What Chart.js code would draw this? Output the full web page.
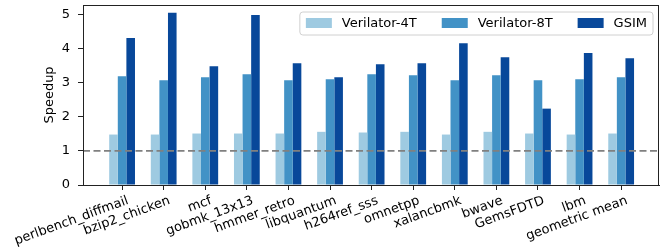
<!DOCTYPE html>
<html>
<head>
<meta charset="utf-8">
<script src="https://cdn.jsdelivr.net/npm/chart.js@4.4.0/dist/chart.umd.min.js"></script>
<style>
  html, body { margin: 0; padding: 0; background: #fff; }
  #wrap { width: 665px; height: 247px; }
</style>
</head>
<body>
<div id="wrap"><canvas id="speedupChart"></canvas></div>
<script>
// benchmark names and speedups
const benchmarks = [
  'perlbench_diffmail', 'bzip2_chicken', 'mcf', 'gobmk_13x13', 'hmmer_retro',
  'libquantum', 'h264ref_sss', 'omnetpp', 'xalancbmk', 'bwave',
  'GemsFDTD', 'lbm', 'geometric mean',
];
const verilator4T = [1.48, 1.48, 1.51, 1.51, 1.51, 1.56, 1.54, 1.56, 1.48, 1.56, 1.51, 1.48, 1.51];
const verilator8T = [3.19, 3.07, 3.16, 3.25, 3.07, 3.10, 3.25, 3.22, 3.07, 3.22, 3.07, 3.10, 3.16];
const gsim = [4.31, 5.05, 3.48, 4.99, 3.57, 3.16, 3.54, 3.57, 4.16, 3.75, 2.24, 3.87, 3.72];
const yTicks = [0, 1, 2, 3, 4, 5];
const baseline = 1;

const FONT = '"DejaVu Sans", sans-serif';
const xMin = -0.94;
const xMax = 12.91;

function points(values) {
  return values.map((v, i) => ({ x: i, y: v }));
}

// legend drawn inside the plot, matplotlib style
const insideLegend = {
  id: 'insideLegend',
  afterDraw(chart) {
    const ctx = chart.ctx;
    const area = chart.chartArea;
    const items = chart.data.datasets.filter((d) => d.type !== 'line');
    ctx.save();
    ctx.font = '13px ' + FONT;
    const widths = items.map((d) => 26 + 10 + ctx.measureText(d.label).width);
    const total = widths.reduce((a, b) => a + b, 0) + 25 * (items.length - 1) + 12;
    const right = area.right - 6;
    const left = right - total;
    const top = area.top + 7;
    const h = 23;
    ctx.beginPath();
    ctx.roundRect(left, top, total, h, 3);
    ctx.fillStyle = 'rgba(255,255,255,0.8)';
    ctx.fill();
    ctx.strokeStyle = '#d0d0d0';
    ctx.lineWidth = 1;
    ctx.stroke();
    let x = left + 6;
    items.forEach((d, i) => {
      ctx.fillStyle = d.backgroundColor;
      ctx.fillRect(x, top + 6, 26, 10);
      ctx.fillStyle = '#000';
      ctx.textBaseline = 'middle';
      ctx.fillText(d.label, x + 36, top + h / 2 + 0.5);
      x += widths[i] + 25;
    });
    ctx.restore();
  },
};

// full box around the axes
const frame = {
  id: 'frame',
  afterDraw(chart) {
    const a = chart.chartArea;
    const ctx = chart.ctx;
    ctx.save();
    ctx.strokeStyle = '#222';
    ctx.lineWidth = 1;
    ctx.strokeRect(a.left + 0.5, a.top + 0.5, a.right - a.left - 1, a.bottom - a.top);
    ctx.restore();
  },
};

new Chart(document.getElementById('speedupChart'), {
  type: 'bar',
  data: {
    datasets: [
      {
        type: 'line',
        label: 'baseline',
        data: [{ x: xMin, y: baseline }, { x: xMax, y: baseline }],
        borderColor: '#808080',
        borderWidth: 1.6,
        borderDash: [7, 3.5],
        pointRadius: 0,
        order: 0,
      },
      {
        label: 'Verilator-4T',
        data: points(verilator4T),
        backgroundColor: '#9ecae1',
        order: 1,
      },
      {
        label: 'Verilator-8T',
        data: points(verilator8T),
        backgroundColor: '#4292c6',
        order: 1,
      },
      {
        label: 'GSIM',
        data: points(gsim),
        backgroundColor: '#08489a',
        order: 1,
      },
    ],
  },
  options: {
    responsive: true,
    maintainAspectRatio: false,
    animation: false,
    categoryPercentage: 0.62,
    barPercentage: 1.0,
    layout: { padding: { left: 0, top: 5, right: 6, bottom: 0 } },
    plugins: {
      legend: { display: false },
      tooltip: { enabled: false },
    },
    scales: {
      x: {
        type: 'linear',
        offset: false,
        min: xMin,
        max: xMax,
        afterBuildTicks: (axis) => {
          axis.ticks = benchmarks.map((_, i) => ({ value: i }));
        },
        afterFit: (axis) => {
          axis.height = 62;
          axis.paddingLeft = 0;
          axis.paddingRight = 0;
        },
        grid: {
          offset: false,
          drawOnChartArea: false,
          drawTicks: true,
          tickLength: 5,
          color: '#222',
        },
        border: { color: '#222' },
        ticks: {
          autoSkip: false,
          minRotation: 20,
          maxRotation: 20,
          padding: 3,
          labelOffset: 6,
          color: '#000',
          font: { family: FONT, size: 13 },
          callback: (value) => benchmarks[value],
        },
      },
      y: {
        min: 0,
        max: 5.28,
        afterBuildTicks: (axis) => {
          axis.ticks = yTicks.map((v) => ({ value: v }));
        },
        afterFit: (axis) => {
          axis.width = 83;
          axis.paddingTop = 0;
          axis.paddingBottom = 0;
        },
        grid: {
          drawOnChartArea: false,
          drawTicks: true,
          tickLength: 5,
          color: '#222',
        },
        border: { color: '#222' },
        ticks: {
          padding: 8,
          color: '#000',
          font: { family: FONT, size: 13 },
        },
        title: {
          display: true,
          text: 'Speedup',
          color: '#000',
          font: { family: FONT, size: 13 },
          padding: { top: 42, bottom: 0 },
        },
      },
    },
  },
  plugins: [insideLegend, frame],
});
</script>
</body>
</html>
